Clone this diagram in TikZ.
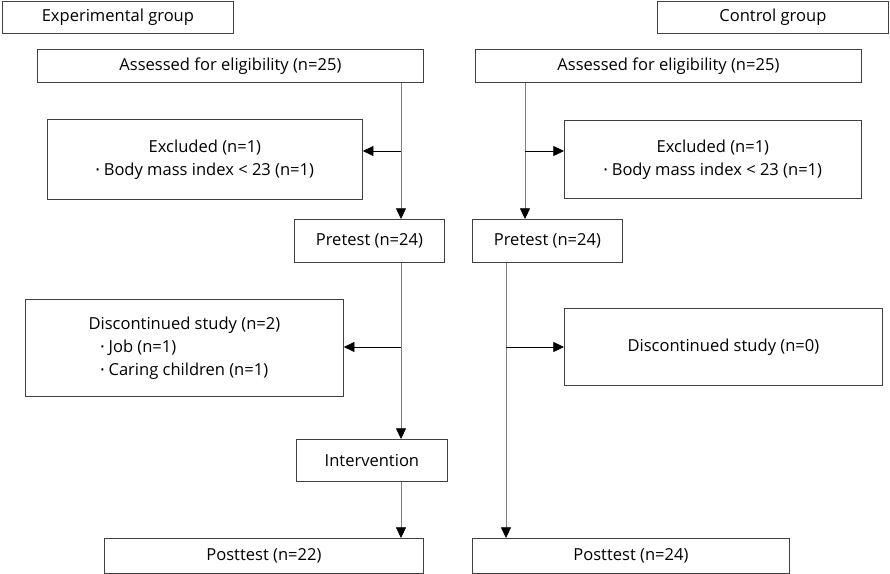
\documentclass[tikz,border=0pt]{standalone}
\usepackage{fontspec}
\setmainfont{Open Sans}
\usepackage{tikz}
\usetikzlibrary{
  	arrows.meta,
  	calc,
  	positioning
  }
\tikzset{
  box/.style 2 args={draw=black!75,line width=0.6pt,anchor=north west,
    minimum width=#1*0.75pt,minimum height=#2*0.75pt,inner sep=0pt,
    align=center,font=\fontsize{12.4}{17}\selectfont},
  flow/.style={draw=black!50,line width=0.6pt},
  tip/.style={-{Triangle[length=8pt,width=7.5pt,color=black]}},
  side/.style={draw=black,line width=0.6pt,tip}
}
\newcommand{\bul}{\raisebox{0.2ex}{\scalebox{0.6}{\textbullet}}\ }

\begin{document}
\begin{tikzpicture}[x=0.75pt,y=-0.75pt]
  \useasboundingbox (0,0) rectangle (890,574);
  % group headers
  \node[box={231}{32}] (expG) at (2,1) {Experimental group};
  \node[box={231}{32}] (ctlG) at (657,1) {Control group};
  % experimental arm
  \node[box={386}{33}] (assL) at (37,49) {Assessed for eligibility (n=25)};
  \node[box={315}{80}] (excL) at (47,119) {Excluded (n=1)\\ \bul Body mass index < 23 (n=1)};
  \node[box={150}{43}] (preL) at (294,219) {Pretest (n=24)};
  \node[box={318}{97}] (disL) at (25,299)
     {\begin{tabular}{@{}l@{}}Discontinued study (n=2)\\
      \hspace*{9pt}\bul Job (n=1)\\ \hspace*{9pt}\bul Caring children (n=1)\end{tabular}};
  \node[box={151}{42}] (intL) at (296,439) {Intervention};
  \node[box={319}{35}] (postL) at (104,538) {Posttest (n=22)};
  % control arm
  \node[box={386}{33}] (assR) at (475,49) {Assessed for eligibility (n=25)};
  \node[box={297}{78}] (excR) at (564,120) {Excluded (n=1)\\ \bul Body mass index < 23 (n=1)};
  \node[box={150}{43}] (preR) at (472,219) {Pretest (n=24)};
  \node[box={318}{77}] (disR) at (564,308) {Discontinued study (n=0)};
  \node[box={317}{35}] (postR) at (472,538) {Posttest (n=24)};
%
  \coordinate (spL) at (401,0);
  \coordinate (spA) at (525,0);
  \coordinate (spB) at (506,0);
  \coordinate (brA) at (0,151);
  \coordinate (brB) at (0,347);
  \draw[flow,tip] (assL.south -| spL) -- (preL.north -| spL);
  \draw[side] (spL |- brA) -- (excL.east |- brA);
  \draw[flow,tip] (preL.south -| spL) -- (intL.north -| spL);
  \draw[side] (spL |- brB) -- (disL.east |- brB);
  \draw[flow,tip] (intL.south -| spL) -- (postL.north -| spL);
%
  \draw[flow,tip] (assR.south -| spA) -- (preR.north -| spA);
  \draw[side] (spA |- brA) -- (excR.west |- brA);
  \draw[flow,tip] (preR.south -| spB) -- (postR.north -| spB);
  \draw[side] (spB |- brB) -- (disR.west |- brB);
\end{tikzpicture}
\end{document}
